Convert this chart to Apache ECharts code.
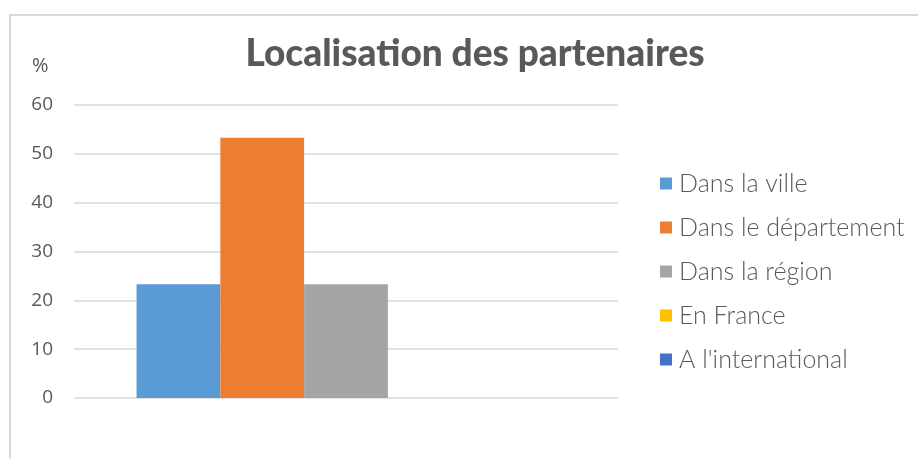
<!DOCTYPE html>
<html>
<head>
<meta charset="utf-8">
<script src="https://cdn.jsdelivr.net/npm/echarts@6/dist/echarts.min.js"></script>
<style>
  html, body { margin: 0; padding: 0; background: #fff; }
  #chart { width: 918px; height: 459px; }
</style>
</head>
<body>
<div id="chart"></div>
<script>
// données
var categories = ['Localisation'];
var seriesNames = ['Dans la ville', 'Dans le département', 'Dans la région', 'En France', "A l'international"];
var seriesValues = [23.3, 53.3, 23.3, 0, 0];
var yTicks = [0, 60, 10]; // min, max, interval
var colors = ['#5b9bd5', '#ed7d31', '#a5a5a5', '#ffc000', '#4472c4'];

var chart = echarts.init(document.getElementById('chart'));

chart.setOption({
  animation: false,
  color: colors,
  title: {
    text: 'Localisation des partenaires',
    left: 470,
    textAlign: 'center',
    top: 31,
    textStyle: {
      fontFamily: 'Lato',
      fontWeight: 900,
      fontSize: 37,
      color: '#595959'
    }
  },
  // cadre
  graphic: [
    {
      type: 'polyline',
      shape: { points: [[10, 459], [10, 15], [918, 15]] },
      style: { stroke: '#d9d9d9', lineWidth: 2, fill: null }
    },
    {
      type: 'text',
      left: 32,
      top: 56,
      style: { text: '%', font: '20px "Open Sans"', fill: '#595959' }
    }
  ],
  grid: {
    left: 74,
    right: 300,
    top: 105,
    bottom: 61
  },
  legend: {
    orient: 'vertical',
    left: 660,
    top: 171,
    padding: 0,
    itemWidth: 12,
    itemHeight: 12,
    itemGap: 19,
    icon: 'rect',
    textStyle: {
      fontFamily: 'Lato',
      fontWeight: 300,
      fontSize: 25,
      lineHeight: 24,
      color: '#595959',
      padding: [0, 0, 0, 2]
    },
    data: seriesNames
  },
  xAxis: {
    type: 'category',
    data: categories,
    axisLine: { show: false },
    axisTick: { show: false },
    axisLabel: { show: false }
  },
  yAxis: {
    type: 'value',
    min: yTicks[0],
    max: yTicks[1],
    interval: yTicks[2],
    axisLine: { show: false },
    axisTick: { show: false },
    axisLabel: {
      margin: 21,
      fontFamily: 'Open Sans',
      fontSize: 19,
      color: '#595959'
    },
    splitLine: { lineStyle: { color: '#d9d9d9', width: 1.5 } }
  },
  series: seriesNames.map(function (name, i) {
    return {
      name: name,
      type: 'bar',
      barGap: '0%',
      barCategoryGap: '23%',
      data: [seriesValues[i]]
    };
  })
});
</script>
</body>
</html>
